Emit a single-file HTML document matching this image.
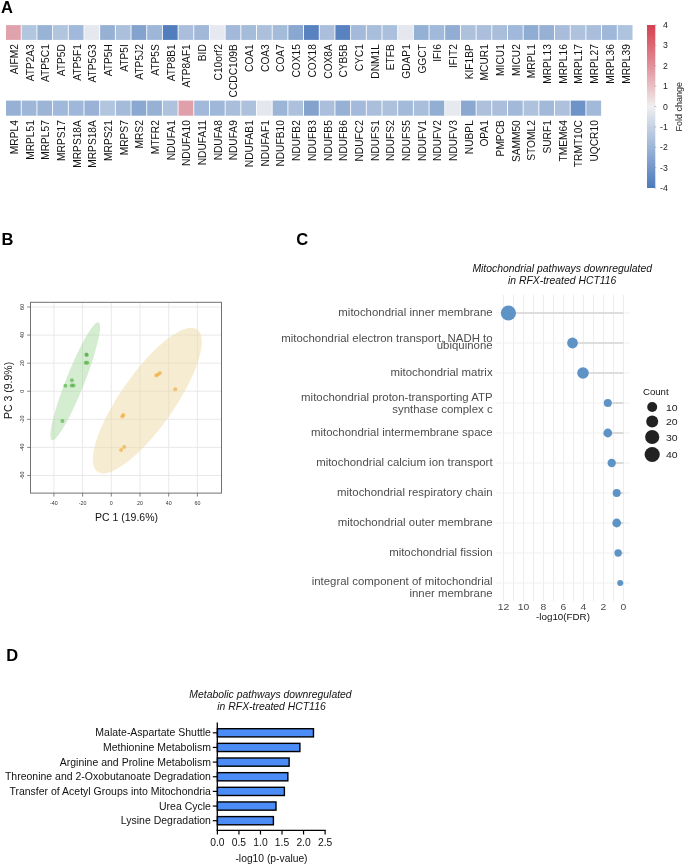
<!DOCTYPE html>
<html><head><meta charset="utf-8"><title>Figure</title>
<style>
html,body{margin:0;padding:0;background:#fff;}
body{width:685px;height:865px;overflow:hidden;}
svg{display:block;will-change:transform;}
svg text{font-family:"Liberation Sans",sans-serif;}
</style></head>
<body>
<svg width="685" height="865" viewBox="0 0 685 865">
<text x="1" y="12.9" font-size="16.5" font-weight="bold" fill="#000">A</text>
<rect x="6.00" y="25.1" width="14.79" height="14.8" fill="#E0A3AD"/>
<rect x="21.69" y="25.1" width="14.79" height="14.8" fill="#B3C6DF"/>
<rect x="37.37" y="25.1" width="14.79" height="14.8" fill="#98B3D6"/>
<rect x="53.05" y="25.1" width="14.79" height="14.8" fill="#B2C5DF"/>
<rect x="68.74" y="25.1" width="14.79" height="14.8" fill="#A1B9DA"/>
<rect x="84.42" y="25.1" width="14.79" height="14.8" fill="#E5E8EE"/>
<rect x="100.11" y="25.1" width="14.79" height="14.8" fill="#97B1D5"/>
<rect x="115.80" y="25.1" width="14.79" height="14.8" fill="#ABC0DC"/>
<rect x="131.48" y="25.1" width="14.79" height="14.8" fill="#83A2CD"/>
<rect x="147.16" y="25.1" width="14.79" height="14.8" fill="#9EB7D9"/>
<rect x="162.85" y="25.1" width="14.79" height="14.8" fill="#537EBD"/>
<rect x="178.53" y="25.1" width="14.79" height="14.8" fill="#ABBFDC"/>
<rect x="194.22" y="25.1" width="14.79" height="14.8" fill="#A1B8D9"/>
<rect x="209.91" y="25.1" width="14.79" height="14.8" fill="#E6E9EF"/>
<rect x="225.59" y="25.1" width="14.79" height="14.8" fill="#A2B9D9"/>
<rect x="241.28" y="25.1" width="14.79" height="14.8" fill="#A4BBDA"/>
<rect x="256.96" y="25.1" width="14.79" height="14.8" fill="#ACC0DC"/>
<rect x="272.64" y="25.1" width="14.79" height="14.8" fill="#A4BBDA"/>
<rect x="288.33" y="25.1" width="14.79" height="14.8" fill="#89A7D0"/>
<rect x="304.01" y="25.1" width="14.79" height="14.8" fill="#5983C0"/>
<rect x="319.70" y="25.1" width="14.79" height="14.8" fill="#ABBFDC"/>
<rect x="335.38" y="25.1" width="14.79" height="14.8" fill="#5883C0"/>
<rect x="351.07" y="25.1" width="14.79" height="14.8" fill="#A3BADA"/>
<rect x="366.75" y="25.1" width="14.79" height="14.8" fill="#A9BEDB"/>
<rect x="382.44" y="25.1" width="14.79" height="14.8" fill="#ABC0DC"/>
<rect x="398.12" y="25.1" width="14.79" height="14.8" fill="#E4E8EE"/>
<rect x="413.81" y="25.1" width="14.79" height="14.8" fill="#94B0D4"/>
<rect x="429.50" y="25.1" width="14.79" height="14.8" fill="#A1B9DA"/>
<rect x="445.18" y="25.1" width="14.79" height="14.8" fill="#91ADD3"/>
<rect x="460.87" y="25.1" width="14.79" height="14.8" fill="#ADC1DD"/>
<rect x="476.55" y="25.1" width="14.79" height="14.8" fill="#ABBFDC"/>
<rect x="492.24" y="25.1" width="14.79" height="14.8" fill="#A9BEDB"/>
<rect x="507.92" y="25.1" width="14.79" height="14.8" fill="#A0B8D9"/>
<rect x="523.61" y="25.1" width="14.79" height="14.8" fill="#8FACD2"/>
<rect x="539.29" y="25.1" width="14.79" height="14.8" fill="#97B1D5"/>
<rect x="554.98" y="25.1" width="14.79" height="14.8" fill="#A8BDDB"/>
<rect x="570.66" y="25.1" width="14.79" height="14.8" fill="#AFC2DD"/>
<rect x="586.35" y="25.1" width="14.79" height="14.8" fill="#A9BEDB"/>
<rect x="602.03" y="25.1" width="14.79" height="14.8" fill="#9FB7D9"/>
<rect x="617.72" y="25.1" width="14.79" height="14.8" fill="#AEC3DE"/>
<text transform="translate(17.83,44.2) scale(1.05,1) rotate(-90)" text-anchor="end" font-size="10.2" fill="#111">AIFM2</text>
<text transform="translate(33.51,44.2) scale(1.05,1) rotate(-90)" text-anchor="end" font-size="10.2" fill="#111">ATP2A3</text>
<text transform="translate(49.20,44.2) scale(1.05,1) rotate(-90)" text-anchor="end" font-size="10.2" fill="#111">ATP5C1</text>
<text transform="translate(64.88,44.2) scale(1.05,1) rotate(-90)" text-anchor="end" font-size="10.2" fill="#111">ATP5D</text>
<text transform="translate(80.57,44.2) scale(1.05,1) rotate(-90)" text-anchor="end" font-size="10.2" fill="#111">ATP5F1</text>
<text transform="translate(96.25,44.2) scale(1.05,1) rotate(-90)" text-anchor="end" font-size="10.2" fill="#111">ATP5G3</text>
<text transform="translate(111.94,44.2) scale(1.05,1) rotate(-90)" text-anchor="end" font-size="10.2" fill="#111">ATP5H</text>
<text transform="translate(127.62,44.2) scale(1.05,1) rotate(-90)" text-anchor="end" font-size="10.2" fill="#111">ATP5I</text>
<text transform="translate(143.31,44.2) scale(1.05,1) rotate(-90)" text-anchor="end" font-size="10.2" fill="#111">ATP5J2</text>
<text transform="translate(158.99,44.2) scale(1.05,1) rotate(-90)" text-anchor="end" font-size="10.2" fill="#111">ATP5S</text>
<text transform="translate(174.68,44.2) scale(1.05,1) rotate(-90)" text-anchor="end" font-size="10.2" fill="#111">ATP8B1</text>
<text transform="translate(190.36,44.2) scale(1.05,1) rotate(-90)" text-anchor="end" font-size="10.2" fill="#111">ATP8AF1</text>
<text transform="translate(206.05,44.2) scale(1.05,1) rotate(-90)" text-anchor="end" font-size="10.2" fill="#111">BID</text>
<text transform="translate(221.73,44.2) scale(1.05,1) rotate(-90)" text-anchor="end" font-size="10.2" fill="#111">C10orf2</text>
<text transform="translate(237.42,44.2) scale(1.05,1) rotate(-90)" text-anchor="end" font-size="10.2" fill="#111">CCDC109B</text>
<text transform="translate(253.10,44.2) scale(1.05,1) rotate(-90)" text-anchor="end" font-size="10.2" fill="#111">COA1</text>
<text transform="translate(268.79,44.2) scale(1.05,1) rotate(-90)" text-anchor="end" font-size="10.2" fill="#111">COA3</text>
<text transform="translate(284.47,44.2) scale(1.05,1) rotate(-90)" text-anchor="end" font-size="10.2" fill="#111">COA7</text>
<text transform="translate(300.16,44.2) scale(1.05,1) rotate(-90)" text-anchor="end" font-size="10.2" fill="#111">COX15</text>
<text transform="translate(315.84,44.2) scale(1.05,1) rotate(-90)" text-anchor="end" font-size="10.2" fill="#111">COX18</text>
<text transform="translate(331.53,44.2) scale(1.05,1) rotate(-90)" text-anchor="end" font-size="10.2" fill="#111">COX8A</text>
<text transform="translate(347.21,44.2) scale(1.05,1) rotate(-90)" text-anchor="end" font-size="10.2" fill="#111">CYB5B</text>
<text transform="translate(362.90,44.2) scale(1.05,1) rotate(-90)" text-anchor="end" font-size="10.2" fill="#111">CYC1</text>
<text transform="translate(378.58,44.2) scale(1.05,1) rotate(-90)" text-anchor="end" font-size="10.2" fill="#111">DNM1L</text>
<text transform="translate(394.27,44.2) scale(1.05,1) rotate(-90)" text-anchor="end" font-size="10.2" fill="#111">ETFB</text>
<text transform="translate(409.95,44.2) scale(1.05,1) rotate(-90)" text-anchor="end" font-size="10.2" fill="#111">GDAP1</text>
<text transform="translate(425.64,44.2) scale(1.05,1) rotate(-90)" text-anchor="end" font-size="10.2" fill="#111">GGCT</text>
<text transform="translate(441.32,44.2) scale(1.05,1) rotate(-90)" text-anchor="end" font-size="10.2" fill="#111">IFI6</text>
<text transform="translate(457.01,44.2) scale(1.05,1) rotate(-90)" text-anchor="end" font-size="10.2" fill="#111">IFIT2</text>
<text transform="translate(472.69,44.2) scale(1.05,1) rotate(-90)" text-anchor="end" font-size="10.2" fill="#111">KIF1BP</text>
<text transform="translate(488.38,44.2) scale(1.05,1) rotate(-90)" text-anchor="end" font-size="10.2" fill="#111">MCUR1</text>
<text transform="translate(504.06,44.2) scale(1.05,1) rotate(-90)" text-anchor="end" font-size="10.2" fill="#111">MICU1</text>
<text transform="translate(519.75,44.2) scale(1.05,1) rotate(-90)" text-anchor="end" font-size="10.2" fill="#111">MICU2</text>
<text transform="translate(535.43,44.2) scale(1.05,1) rotate(-90)" text-anchor="end" font-size="10.2" fill="#111">MRPL1</text>
<text transform="translate(551.12,44.2) scale(1.05,1) rotate(-90)" text-anchor="end" font-size="10.2" fill="#111">MRPL13</text>
<text transform="translate(566.80,44.2) scale(1.05,1) rotate(-90)" text-anchor="end" font-size="10.2" fill="#111">MRPL16</text>
<text transform="translate(582.49,44.2) scale(1.05,1) rotate(-90)" text-anchor="end" font-size="10.2" fill="#111">MRPL17</text>
<text transform="translate(598.17,44.2) scale(1.05,1) rotate(-90)" text-anchor="end" font-size="10.2" fill="#111">MRPL27</text>
<text transform="translate(613.86,44.2) scale(1.05,1) rotate(-90)" text-anchor="end" font-size="10.2" fill="#111">MRPL36</text>
<text transform="translate(629.54,44.2) scale(1.05,1) rotate(-90)" text-anchor="end" font-size="10.2" fill="#111">MRPL39</text>
<rect x="6.00" y="100.6" width="14.79" height="15.1" fill="#97B1D5"/>
<rect x="21.69" y="100.6" width="14.79" height="15.1" fill="#9EB6D8"/>
<rect x="37.37" y="100.6" width="14.79" height="15.1" fill="#9CB5D7"/>
<rect x="53.05" y="100.6" width="14.79" height="15.1" fill="#A0B8D9"/>
<rect x="68.74" y="100.6" width="14.79" height="15.1" fill="#9FB7D9"/>
<rect x="84.42" y="100.6" width="14.79" height="15.1" fill="#99B2D6"/>
<rect x="100.11" y="100.6" width="14.79" height="15.1" fill="#B2C5DF"/>
<rect x="115.80" y="100.6" width="14.79" height="15.1" fill="#A5BBDA"/>
<rect x="131.48" y="100.6" width="14.79" height="15.1" fill="#8AA8D0"/>
<rect x="147.16" y="100.6" width="14.79" height="15.1" fill="#97B1D5"/>
<rect x="162.85" y="100.6" width="14.79" height="15.1" fill="#AFC2DD"/>
<rect x="178.53" y="100.6" width="14.79" height="15.1" fill="#E0A0AA"/>
<rect x="194.22" y="100.6" width="14.79" height="15.1" fill="#A2B9D9"/>
<rect x="209.91" y="100.6" width="14.79" height="15.1" fill="#9FB7D9"/>
<rect x="225.59" y="100.6" width="14.79" height="15.1" fill="#A9BEDB"/>
<rect x="241.28" y="100.6" width="14.79" height="15.1" fill="#ADC1DD"/>
<rect x="256.96" y="100.6" width="14.79" height="15.1" fill="#E4E8EE"/>
<rect x="272.64" y="100.6" width="14.79" height="15.1" fill="#9CB5D7"/>
<rect x="288.33" y="100.6" width="14.79" height="15.1" fill="#ADC1DD"/>
<rect x="304.01" y="100.6" width="14.79" height="15.1" fill="#83A3CD"/>
<rect x="319.70" y="100.6" width="14.79" height="15.1" fill="#ABBFDC"/>
<rect x="335.38" y="100.6" width="14.79" height="15.1" fill="#97B1D5"/>
<rect x="351.07" y="100.6" width="14.79" height="15.1" fill="#A4BADA"/>
<rect x="366.75" y="100.6" width="14.79" height="15.1" fill="#ABBFDC"/>
<rect x="382.44" y="100.6" width="14.79" height="15.1" fill="#ADC1DD"/>
<rect x="398.12" y="100.6" width="14.79" height="15.1" fill="#A4BADA"/>
<rect x="413.81" y="100.6" width="14.79" height="15.1" fill="#A9BEDB"/>
<rect x="429.50" y="100.6" width="14.79" height="15.1" fill="#92AED3"/>
<rect x="445.18" y="100.6" width="14.79" height="15.1" fill="#E6E9EE"/>
<rect x="460.87" y="100.6" width="14.79" height="15.1" fill="#8AA8D0"/>
<rect x="476.55" y="100.6" width="14.79" height="15.1" fill="#ADC1DD"/>
<rect x="492.24" y="100.6" width="14.79" height="15.1" fill="#ABBFDC"/>
<rect x="507.92" y="100.6" width="14.79" height="15.1" fill="#A2B9D9"/>
<rect x="523.61" y="100.6" width="14.79" height="15.1" fill="#AFC2DD"/>
<rect x="539.29" y="100.6" width="14.79" height="15.1" fill="#A2B9D9"/>
<rect x="554.98" y="100.6" width="14.79" height="15.1" fill="#ADC1DD"/>
<rect x="570.66" y="100.6" width="14.79" height="15.1" fill="#6E93C8"/>
<rect x="586.35" y="100.6" width="14.79" height="15.1" fill="#A2B9D9"/>
<text transform="translate(17.83,120.2) scale(1.05,1) rotate(-90)" text-anchor="end" font-size="10.2" fill="#111">MRPL4</text>
<text transform="translate(33.51,120.2) scale(1.05,1) rotate(-90)" text-anchor="end" font-size="10.2" fill="#111">MRPL51</text>
<text transform="translate(49.20,120.2) scale(1.05,1) rotate(-90)" text-anchor="end" font-size="10.2" fill="#111">MRPL57</text>
<text transform="translate(64.88,120.2) scale(1.05,1) rotate(-90)" text-anchor="end" font-size="10.2" fill="#111">MRPS17</text>
<text transform="translate(80.57,120.2) scale(1.05,1) rotate(-90)" text-anchor="end" font-size="10.2" fill="#111">MRPS18A</text>
<text transform="translate(96.25,120.2) scale(1.05,1) rotate(-90)" text-anchor="end" font-size="10.2" fill="#111">MRPS18A</text>
<text transform="translate(111.94,120.2) scale(1.05,1) rotate(-90)" text-anchor="end" font-size="10.2" fill="#111">MRPS21</text>
<text transform="translate(127.62,120.2) scale(1.05,1) rotate(-90)" text-anchor="end" font-size="10.2" fill="#111">MRPS7</text>
<text transform="translate(143.31,120.2) scale(1.05,1) rotate(-90)" text-anchor="end" font-size="10.2" fill="#111">MRS2</text>
<text transform="translate(158.99,120.2) scale(1.05,1) rotate(-90)" text-anchor="end" font-size="10.2" fill="#111">MTFR2</text>
<text transform="translate(174.68,120.2) scale(1.05,1) rotate(-90)" text-anchor="end" font-size="10.2" fill="#111">NDUFA1</text>
<text transform="translate(190.36,120.2) scale(1.05,1) rotate(-90)" text-anchor="end" font-size="10.2" fill="#111">NDUFA10</text>
<text transform="translate(206.05,120.2) scale(1.05,1) rotate(-90)" text-anchor="end" font-size="10.2" fill="#111">NDUFA11</text>
<text transform="translate(221.73,120.2) scale(1.05,1) rotate(-90)" text-anchor="end" font-size="10.2" fill="#111">NDUFA8</text>
<text transform="translate(237.42,120.2) scale(1.05,1) rotate(-90)" text-anchor="end" font-size="10.2" fill="#111">NDUFA9</text>
<text transform="translate(253.10,120.2) scale(1.05,1) rotate(-90)" text-anchor="end" font-size="10.2" fill="#111">NDUFAB1</text>
<text transform="translate(268.79,120.2) scale(1.05,1) rotate(-90)" text-anchor="end" font-size="10.2" fill="#111">NDUFAF1</text>
<text transform="translate(284.47,120.2) scale(1.05,1) rotate(-90)" text-anchor="end" font-size="10.2" fill="#111">NDUFB10</text>
<text transform="translate(300.16,120.2) scale(1.05,1) rotate(-90)" text-anchor="end" font-size="10.2" fill="#111">NDUFB2</text>
<text transform="translate(315.84,120.2) scale(1.05,1) rotate(-90)" text-anchor="end" font-size="10.2" fill="#111">NDUFB3</text>
<text transform="translate(331.53,120.2) scale(1.05,1) rotate(-90)" text-anchor="end" font-size="10.2" fill="#111">NDUFB5</text>
<text transform="translate(347.21,120.2) scale(1.05,1) rotate(-90)" text-anchor="end" font-size="10.2" fill="#111">NDUFB6</text>
<text transform="translate(362.90,120.2) scale(1.05,1) rotate(-90)" text-anchor="end" font-size="10.2" fill="#111">NDUFC2</text>
<text transform="translate(378.58,120.2) scale(1.05,1) rotate(-90)" text-anchor="end" font-size="10.2" fill="#111">NDUFS1</text>
<text transform="translate(394.27,120.2) scale(1.05,1) rotate(-90)" text-anchor="end" font-size="10.2" fill="#111">NDUFS2</text>
<text transform="translate(409.95,120.2) scale(1.05,1) rotate(-90)" text-anchor="end" font-size="10.2" fill="#111">NDUFS5</text>
<text transform="translate(425.64,120.2) scale(1.05,1) rotate(-90)" text-anchor="end" font-size="10.2" fill="#111">NDUFV1</text>
<text transform="translate(441.32,120.2) scale(1.05,1) rotate(-90)" text-anchor="end" font-size="10.2" fill="#111">NDUFV2</text>
<text transform="translate(457.01,120.2) scale(1.05,1) rotate(-90)" text-anchor="end" font-size="10.2" fill="#111">NDUFV3</text>
<text transform="translate(472.69,120.2) scale(1.05,1) rotate(-90)" text-anchor="end" font-size="10.2" fill="#111">NUBPL</text>
<text transform="translate(488.38,120.2) scale(1.05,1) rotate(-90)" text-anchor="end" font-size="10.2" fill="#111">OPA1</text>
<text transform="translate(504.06,120.2) scale(1.05,1) rotate(-90)" text-anchor="end" font-size="10.2" fill="#111">PMPCB</text>
<text transform="translate(519.75,120.2) scale(1.05,1) rotate(-90)" text-anchor="end" font-size="10.2" fill="#111">SAMM50</text>
<text transform="translate(535.43,120.2) scale(1.05,1) rotate(-90)" text-anchor="end" font-size="10.2" fill="#111">STOML2</text>
<text transform="translate(551.12,120.2) scale(1.05,1) rotate(-90)" text-anchor="end" font-size="10.2" fill="#111">SURF1</text>
<text transform="translate(566.80,120.2) scale(1.05,1) rotate(-90)" text-anchor="end" font-size="10.2" fill="#111">TMEM64</text>
<text transform="translate(582.49,120.2) scale(1.05,1) rotate(-90)" text-anchor="end" font-size="10.2" fill="#111">TRMT10C</text>
<text transform="translate(598.17,120.2) scale(1.05,1) rotate(-90)" text-anchor="end" font-size="10.2" fill="#111">UQCR10</text>
<defs><linearGradient id="cb" x1="0" y1="0" x2="0" y2="1"><stop offset="0" stop-color="#D63F4F"/><stop offset="0.25" stop-color="#E2909A"/><stop offset="0.5" stop-color="#EFEFEF"/><stop offset="0.75" stop-color="#9DB5D8"/><stop offset="1" stop-color="#4C79BC"/></linearGradient></defs>
<rect x="647" y="25" width="8.3" height="163" fill="url(#cb)"/>
<line x1="654.3" x2="656.3" y1="25.00" y2="25.00" stroke="#999" stroke-width="0.6"/>
<text x="667.8" y="28.11" text-anchor="end" font-size="8.7" fill="#222">4</text>
<line x1="654.3" x2="656.3" y1="45.38" y2="45.38" stroke="#999" stroke-width="0.6"/>
<text x="667.8" y="48.49" text-anchor="end" font-size="8.7" fill="#222">3</text>
<line x1="654.3" x2="656.3" y1="65.75" y2="65.75" stroke="#999" stroke-width="0.6"/>
<text x="667.8" y="68.86" text-anchor="end" font-size="8.7" fill="#222">2</text>
<line x1="654.3" x2="656.3" y1="86.12" y2="86.12" stroke="#999" stroke-width="0.6"/>
<text x="667.8" y="89.24" text-anchor="end" font-size="8.7" fill="#222">1</text>
<line x1="654.3" x2="656.3" y1="106.50" y2="106.50" stroke="#999" stroke-width="0.6"/>
<text x="667.8" y="109.61" text-anchor="end" font-size="8.7" fill="#222">0</text>
<line x1="654.3" x2="656.3" y1="126.88" y2="126.88" stroke="#999" stroke-width="0.6"/>
<text x="667.8" y="129.99" text-anchor="end" font-size="8.7" fill="#222">-1</text>
<line x1="654.3" x2="656.3" y1="147.25" y2="147.25" stroke="#999" stroke-width="0.6"/>
<text x="667.8" y="150.36" text-anchor="end" font-size="8.7" fill="#222">-2</text>
<line x1="654.3" x2="656.3" y1="167.62" y2="167.62" stroke="#999" stroke-width="0.6"/>
<text x="667.8" y="170.74" text-anchor="end" font-size="8.7" fill="#222">-3</text>
<line x1="654.3" x2="656.3" y1="188.00" y2="188.00" stroke="#999" stroke-width="0.6"/>
<text x="667.8" y="191.11" text-anchor="end" font-size="8.7" fill="#222">-4</text>
<text transform="translate(681.8,106.7) rotate(-90)" text-anchor="middle" font-size="9.0" fill="#222">Fold change</text>
<text x="1.5" y="244.9" font-size="16.5" font-weight="bold" fill="#000">B</text>
<line x1="53.90" x2="53.90" y1="302.3" y2="493.1" stroke="#E6E6E6" stroke-width="0.9"/>
<line x1="82.60" x2="82.60" y1="302.3" y2="493.1" stroke="#E6E6E6" stroke-width="0.9"/>
<line x1="111.30" x2="111.30" y1="302.3" y2="493.1" stroke="#E6E6E6" stroke-width="0.9"/>
<line x1="140.00" x2="140.00" y1="302.3" y2="493.1" stroke="#E6E6E6" stroke-width="0.9"/>
<line x1="168.70" x2="168.70" y1="302.3" y2="493.1" stroke="#E6E6E6" stroke-width="0.9"/>
<line x1="197.40" x2="197.40" y1="302.3" y2="493.1" stroke="#E6E6E6" stroke-width="0.9"/>
<line x1="30.5" x2="221.5" y1="475.49" y2="475.49" stroke="#E6E6E6" stroke-width="0.9"/>
<line x1="30.5" x2="221.5" y1="447.41" y2="447.41" stroke="#E6E6E6" stroke-width="0.9"/>
<line x1="30.5" x2="221.5" y1="419.33" y2="419.33" stroke="#E6E6E6" stroke-width="0.9"/>
<line x1="30.5" x2="221.5" y1="391.25" y2="391.25" stroke="#E6E6E6" stroke-width="0.9"/>
<line x1="30.5" x2="221.5" y1="363.17" y2="363.17" stroke="#E6E6E6" stroke-width="0.9"/>
<line x1="30.5" x2="221.5" y1="335.09" y2="335.09" stroke="#E6E6E6" stroke-width="0.9"/>
<line x1="30.5" x2="221.5" y1="307.01" y2="307.01" stroke="#E6E6E6" stroke-width="0.9"/>
<ellipse cx="75.2" cy="381.3" rx="63.3" ry="9.2" transform="rotate(-68.4 75.2 381.3)" fill="#9FD497" fill-opacity="0.45"/>
<ellipse cx="147.3" cy="400.6" rx="86.9" ry="26.9" transform="rotate(-55 147.3 400.6)" fill="#EED9A4" fill-opacity="0.5"/>
<circle cx="86.7" cy="355.0" r="2.0" fill="#4DAF3F" fill-opacity="0.62"/>
<circle cx="85.7" cy="362.7" r="2.0" fill="#4DAF3F" fill-opacity="0.62"/>
<circle cx="87.3" cy="362.7" r="2.0" fill="#4DAF3F" fill-opacity="0.62"/>
<circle cx="71.9" cy="380.2" r="2.0" fill="#4DAF3F" fill-opacity="0.62"/>
<circle cx="65.4" cy="385.8" r="2.0" fill="#4DAF3F" fill-opacity="0.62"/>
<circle cx="71.6" cy="385.4" r="2.0" fill="#4DAF3F" fill-opacity="0.62"/>
<circle cx="73.5" cy="385.4" r="2.0" fill="#4DAF3F" fill-opacity="0.62"/>
<circle cx="62.4" cy="421.0" r="2.0" fill="#4DAF3F" fill-opacity="0.62"/>
<circle cx="86.4" cy="354.6" r="2.0" fill="#4DAF3F" fill-opacity="0.62"/>
<circle cx="156.2" cy="375.6" r="2.0" fill="#F0A830" fill-opacity="0.62"/>
<circle cx="157.9" cy="374.6" r="2.0" fill="#F0A830" fill-opacity="0.62"/>
<circle cx="160.0" cy="372.9" r="2.0" fill="#F0A830" fill-opacity="0.62"/>
<circle cx="175.2" cy="389.2" r="2.0" fill="#F0A830" fill-opacity="0.62"/>
<circle cx="122.3" cy="416.6" r="2.0" fill="#F0A830" fill-opacity="0.62"/>
<circle cx="123.4" cy="415.0" r="2.0" fill="#F0A830" fill-opacity="0.62"/>
<circle cx="121.1" cy="450.0" r="2.0" fill="#F0A830" fill-opacity="0.62"/>
<circle cx="124.2" cy="446.9" r="2.0" fill="#F0A830" fill-opacity="0.62"/>
<rect x="30.5" y="302.3" width="191.0" height="190.8" fill="none" stroke="#707070" stroke-width="1"/>
<line x1="53.90" x2="53.90" y1="493.1" y2="496.6" stroke="#666" stroke-width="0.8"/>
<text x="53.90" y="505.20" text-anchor="middle" font-size="5.3" fill="#333">-40</text>
<line x1="82.60" x2="82.60" y1="493.1" y2="496.6" stroke="#666" stroke-width="0.8"/>
<text x="82.60" y="505.20" text-anchor="middle" font-size="5.3" fill="#333">-20</text>
<line x1="111.30" x2="111.30" y1="493.1" y2="496.6" stroke="#666" stroke-width="0.8"/>
<text x="111.30" y="505.20" text-anchor="middle" font-size="5.3" fill="#333">0</text>
<line x1="140.00" x2="140.00" y1="493.1" y2="496.6" stroke="#666" stroke-width="0.8"/>
<text x="140.00" y="505.20" text-anchor="middle" font-size="5.3" fill="#333">20</text>
<line x1="168.70" x2="168.70" y1="493.1" y2="496.6" stroke="#666" stroke-width="0.8"/>
<text x="168.70" y="505.20" text-anchor="middle" font-size="5.3" fill="#333">40</text>
<line x1="197.40" x2="197.40" y1="493.1" y2="496.6" stroke="#666" stroke-width="0.8"/>
<text x="197.40" y="505.20" text-anchor="middle" font-size="5.3" fill="#333">60</text>
<line x1="27.2" x2="30.5" y1="475.49" y2="475.49" stroke="#666" stroke-width="0.8"/>
<text transform="translate(24.40,475.49) rotate(-90)" text-anchor="middle" font-size="5.3" fill="#333">-60</text>
<line x1="27.2" x2="30.5" y1="447.41" y2="447.41" stroke="#666" stroke-width="0.8"/>
<text transform="translate(24.40,447.41) rotate(-90)" text-anchor="middle" font-size="5.3" fill="#333">-40</text>
<line x1="27.2" x2="30.5" y1="419.33" y2="419.33" stroke="#666" stroke-width="0.8"/>
<text transform="translate(24.40,419.33) rotate(-90)" text-anchor="middle" font-size="5.3" fill="#333">-20</text>
<line x1="27.2" x2="30.5" y1="391.25" y2="391.25" stroke="#666" stroke-width="0.8"/>
<text transform="translate(24.40,391.25) rotate(-90)" text-anchor="middle" font-size="5.3" fill="#333">0</text>
<line x1="27.2" x2="30.5" y1="363.17" y2="363.17" stroke="#666" stroke-width="0.8"/>
<text transform="translate(24.40,363.17) rotate(-90)" text-anchor="middle" font-size="5.3" fill="#333">20</text>
<line x1="27.2" x2="30.5" y1="335.09" y2="335.09" stroke="#666" stroke-width="0.8"/>
<text transform="translate(24.40,335.09) rotate(-90)" text-anchor="middle" font-size="5.3" fill="#333">40</text>
<line x1="27.2" x2="30.5" y1="307.01" y2="307.01" stroke="#666" stroke-width="0.8"/>
<text transform="translate(24.40,307.01) rotate(-90)" text-anchor="middle" font-size="5.3" fill="#333">60</text>
<text x="126.5" y="521.26" text-anchor="middle" font-size="10.5" fill="#111">PC 1 (19.6%)</text>
<text transform="translate(11.9,390.4) rotate(-90)" text-anchor="middle" font-size="10.5" fill="#111">PC 3 (9.9%)</text>
<text x="296.3" y="245" font-size="16.5" font-weight="bold" fill="#000">C</text>
<text x="562.2" y="272" text-anchor="middle" font-size="10.4" font-style="italic" fill="#111">Mitochondrial pathways downregulated</text>
<text x="562.2" y="283.9" text-anchor="middle" font-size="10.4" font-style="italic" fill="#111">in RFX-treated HCT116</text>
<line x1="623.50" x2="623.50" y1="295" y2="601" stroke="#EDEDED" stroke-width="1"/>
<line x1="613.50" x2="613.50" y1="295" y2="601" stroke="#EDEDED" stroke-width="1"/>
<line x1="603.50" x2="603.50" y1="295" y2="601" stroke="#EDEDED" stroke-width="1"/>
<line x1="593.50" x2="593.50" y1="295" y2="601" stroke="#EDEDED" stroke-width="1"/>
<line x1="583.50" x2="583.50" y1="295" y2="601" stroke="#EDEDED" stroke-width="1"/>
<line x1="573.50" x2="573.50" y1="295" y2="601" stroke="#EDEDED" stroke-width="1"/>
<line x1="563.50" x2="563.50" y1="295" y2="601" stroke="#EDEDED" stroke-width="1"/>
<line x1="553.50" x2="553.50" y1="295" y2="601" stroke="#EDEDED" stroke-width="1"/>
<line x1="543.50" x2="543.50" y1="295" y2="601" stroke="#EDEDED" stroke-width="1"/>
<line x1="533.50" x2="533.50" y1="295" y2="601" stroke="#EDEDED" stroke-width="1"/>
<line x1="523.50" x2="523.50" y1="295" y2="601" stroke="#EDEDED" stroke-width="1"/>
<line x1="513.50" x2="513.50" y1="295" y2="601" stroke="#EDEDED" stroke-width="1"/>
<line x1="503.50" x2="503.50" y1="295" y2="601" stroke="#EDEDED" stroke-width="1"/>
<line x1="496" x2="630" y1="313" y2="313" stroke="#F0F0F0" stroke-width="1"/>
<line x1="496" x2="630" y1="343" y2="343" stroke="#F0F0F0" stroke-width="1"/>
<line x1="496" x2="630" y1="373" y2="373" stroke="#F0F0F0" stroke-width="1"/>
<line x1="496" x2="630" y1="403" y2="403" stroke="#F0F0F0" stroke-width="1"/>
<line x1="496" x2="630" y1="433" y2="433" stroke="#F0F0F0" stroke-width="1"/>
<line x1="496" x2="630" y1="463" y2="463" stroke="#F0F0F0" stroke-width="1"/>
<line x1="496" x2="630" y1="493" y2="493" stroke="#F0F0F0" stroke-width="1"/>
<line x1="496" x2="630" y1="523" y2="523" stroke="#F0F0F0" stroke-width="1"/>
<line x1="496" x2="630" y1="553" y2="553" stroke="#F0F0F0" stroke-width="1"/>
<line x1="496" x2="630" y1="583" y2="583" stroke="#F0F0F0" stroke-width="1"/>
<line x1="508.4" x2="623.5" y1="313" y2="313" stroke="#D6D6D6" stroke-width="1.7"/>
<line x1="572.5" x2="623.5" y1="343" y2="343" stroke="#D6D6D6" stroke-width="1.7"/>
<line x1="583.0" x2="623.5" y1="373" y2="373" stroke="#D6D6D6" stroke-width="1.7"/>
<line x1="607.8" x2="623.5" y1="403" y2="403" stroke="#D6D6D6" stroke-width="1.7"/>
<line x1="607.8" x2="623.5" y1="433" y2="433" stroke="#D6D6D6" stroke-width="1.7"/>
<line x1="611.7" x2="623.5" y1="463" y2="463" stroke="#D6D6D6" stroke-width="1.7"/>
<line x1="616.7" x2="623.5" y1="493" y2="493" stroke="#D6D6D6" stroke-width="1.7"/>
<line x1="616.7" x2="623.5" y1="523" y2="523" stroke="#D6D6D6" stroke-width="1.7"/>
<line x1="618.1" x2="623.5" y1="553" y2="553" stroke="#D6D6D6" stroke-width="1.7"/>
<line x1="620.2" x2="623.5" y1="583" y2="583" stroke="#D6D6D6" stroke-width="1.7"/>
<circle cx="508.4" cy="313" r="7.6" fill="#5E93C6"/>
<circle cx="572.5" cy="343" r="5.4" fill="#5E93C6"/>
<circle cx="583.0" cy="373" r="5.8" fill="#5E93C6"/>
<circle cx="607.8" cy="403" r="4.0" fill="#5E93C6"/>
<circle cx="607.8" cy="433" r="4.4" fill="#5E93C6"/>
<circle cx="611.7" cy="463" r="4.2" fill="#5E93C6"/>
<circle cx="616.7" cy="493" r="4.0" fill="#5E93C6"/>
<circle cx="616.7" cy="523" r="4.4" fill="#5E93C6"/>
<circle cx="618.1" cy="553" r="3.7" fill="#5E93C6"/>
<circle cx="620.2" cy="583" r="3.0" fill="#5E93C6"/>
<text transform="translate(492.6,316.00) scale(1.088,1)" text-anchor="end" font-size="10.5" fill="#4D4D4D">mitochondrial inner membrane</text>
<text transform="translate(492.6,341.60) scale(1.088,1)" text-anchor="end" font-size="10.5" fill="#4D4D4D">mitochondrial electron transport, NADH to</text>
<text transform="translate(492.6,349.00) scale(1.088,1)" text-anchor="end" font-size="10.5" fill="#4D4D4D">ubiquinone</text>
<text transform="translate(492.6,376.00) scale(1.088,1)" text-anchor="end" font-size="10.5" fill="#4D4D4D">mitochondrial matrix</text>
<text transform="translate(492.6,401.00) scale(1.088,1)" text-anchor="end" font-size="10.5" fill="#4D4D4D">mitochondrial proton-transporting ATP</text>
<text transform="translate(492.6,412.50) scale(1.088,1)" text-anchor="end" font-size="10.5" fill="#4D4D4D">synthase complex c</text>
<text transform="translate(492.6,436.00) scale(1.088,1)" text-anchor="end" font-size="10.5" fill="#4D4D4D">mitochondrial intermembrane space</text>
<text transform="translate(492.6,466.00) scale(1.088,1)" text-anchor="end" font-size="10.5" fill="#4D4D4D">mitochondrial calcium ion transport</text>
<text transform="translate(492.6,496.00) scale(1.088,1)" text-anchor="end" font-size="10.5" fill="#4D4D4D">mitochondrial respiratory chain</text>
<text transform="translate(492.6,526.00) scale(1.088,1)" text-anchor="end" font-size="10.5" fill="#4D4D4D">mitochondrial outer membrane</text>
<text transform="translate(492.6,556.00) scale(1.088,1)" text-anchor="end" font-size="10.5" fill="#4D4D4D">mitochondrial fission</text>
<text transform="translate(492.6,585.30) scale(1.088,1)" text-anchor="end" font-size="10.5" fill="#4D4D4D">integral component of mitochondrial</text>
<text transform="translate(492.6,596.50) scale(1.088,1)" text-anchor="end" font-size="10.5" fill="#4D4D4D">inner membrane</text>
<text transform="translate(503.50,609.9) scale(1.06,1)" text-anchor="middle" font-size="9.8" fill="#4D4D4D">12</text>
<text transform="translate(523.50,609.9) scale(1.06,1)" text-anchor="middle" font-size="9.8" fill="#4D4D4D">10</text>
<text transform="translate(543.50,609.9) scale(1.06,1)" text-anchor="middle" font-size="9.8" fill="#4D4D4D">8</text>
<text transform="translate(563.50,609.9) scale(1.06,1)" text-anchor="middle" font-size="9.8" fill="#4D4D4D">6</text>
<text transform="translate(583.50,609.9) scale(1.06,1)" text-anchor="middle" font-size="9.8" fill="#4D4D4D">4</text>
<text transform="translate(603.50,609.9) scale(1.06,1)" text-anchor="middle" font-size="9.8" fill="#4D4D4D">2</text>
<text transform="translate(623.50,609.9) scale(1.06,1)" text-anchor="middle" font-size="9.8" fill="#4D4D4D">0</text>
<text x="563" y="620.1" text-anchor="middle" font-size="9.8" fill="#111">-log10(FDR)</text>
<text x="643" y="394.8" font-size="9.6" fill="#111">Count</text>
<circle cx="652.2" cy="407.0" r="5.0" fill="#222"/>
<text transform="translate(666.0,410.55) scale(1.06,1)" font-size="9.9" fill="#222">10</text>
<circle cx="652.2" cy="421.6" r="6.0" fill="#222"/>
<text transform="translate(666.0,425.15) scale(1.06,1)" font-size="9.9" fill="#222">20</text>
<circle cx="652.2" cy="437.0" r="7.1" fill="#222"/>
<text transform="translate(666.0,440.55) scale(1.06,1)" font-size="9.9" fill="#222">30</text>
<circle cx="652.2" cy="454.5" r="7.6" fill="#222"/>
<text transform="translate(666.0,458.05) scale(1.06,1)" font-size="9.9" fill="#222">40</text>
<text x="6.2" y="661" font-size="16.5" font-weight="bold" fill="#000">D</text>
<text x="270.5" y="697.9" text-anchor="middle" font-size="10.4" font-style="italic" fill="#111">Metabolic pathways downregulated</text>
<text x="271.5" y="709.8" text-anchor="middle" font-size="10.4" font-style="italic" fill="#111">in RFX-treated HCT116</text>
<rect x="217.40" y="728.70" width="96.07" height="8.2" fill="#4B8CF6" stroke="#000" stroke-width="1.4"/>
<line x1="212.8" x2="217.3" y1="732.80" y2="732.80" stroke="#000" stroke-width="1.2"/>
<text transform="translate(210.9,736.40) scale(1.05,1)" text-anchor="end" font-size="10.0" fill="#111">Malate-Aspartate Shuttle</text>
<rect x="217.40" y="743.35" width="82.50" height="8.2" fill="#4B8CF6" stroke="#000" stroke-width="1.4"/>
<line x1="212.8" x2="217.3" y1="747.45" y2="747.45" stroke="#000" stroke-width="1.2"/>
<text transform="translate(210.9,751.05) scale(1.05,1)" text-anchor="end" font-size="10.0" fill="#111">Methionine Metabolism</text>
<rect x="217.40" y="758.00" width="71.73" height="8.2" fill="#4B8CF6" stroke="#000" stroke-width="1.4"/>
<line x1="212.8" x2="217.3" y1="762.10" y2="762.10" stroke="#000" stroke-width="1.2"/>
<text transform="translate(210.9,765.70) scale(1.05,1)" text-anchor="end" font-size="10.0" fill="#111">Arginine and Proline Metabolism</text>
<rect x="217.40" y="772.65" width="70.44" height="8.2" fill="#4B8CF6" stroke="#000" stroke-width="1.4"/>
<line x1="212.8" x2="217.3" y1="776.75" y2="776.75" stroke="#000" stroke-width="1.2"/>
<text transform="translate(210.9,780.35) scale(1.05,1)" text-anchor="end" font-size="10.0" fill="#111">Threonine and 2-Oxobutanoate Degradation</text>
<rect x="217.40" y="787.30" width="66.99" height="8.2" fill="#4B8CF6" stroke="#000" stroke-width="1.4"/>
<line x1="212.8" x2="217.3" y1="791.40" y2="791.40" stroke="#000" stroke-width="1.2"/>
<text transform="translate(210.9,795.00) scale(1.05,1)" text-anchor="end" font-size="10.0" fill="#111">Transfer of Acetyl Groups into Mitochondria</text>
<rect x="217.40" y="801.95" width="58.59" height="8.2" fill="#4B8CF6" stroke="#000" stroke-width="1.4"/>
<line x1="212.8" x2="217.3" y1="806.05" y2="806.05" stroke="#000" stroke-width="1.2"/>
<text transform="translate(210.9,809.65) scale(1.05,1)" text-anchor="end" font-size="10.0" fill="#111">Urea Cycle</text>
<rect x="217.40" y="816.60" width="56.00" height="8.2" fill="#4B8CF6" stroke="#000" stroke-width="1.4"/>
<line x1="212.8" x2="217.3" y1="820.70" y2="820.70" stroke="#000" stroke-width="1.2"/>
<text transform="translate(210.9,824.30) scale(1.05,1)" text-anchor="end" font-size="10.0" fill="#111">Lysine Degradation</text>
<line x1="217.3" x2="217.3" y1="722.6" y2="831.0" stroke="#000" stroke-width="1.3"/>
<line x1="216.7" x2="325.7" y1="830.3" y2="830.3" stroke="#000" stroke-width="1.3"/>
<line x1="217.40" x2="217.40" y1="830.3" y2="834.5" stroke="#000" stroke-width="1.2"/>
<text x="217.40" y="846.00" text-anchor="middle" font-size="10.3" fill="#111">0.0</text>
<line x1="238.94" x2="238.94" y1="830.3" y2="834.5" stroke="#000" stroke-width="1.2"/>
<text x="238.94" y="846.00" text-anchor="middle" font-size="10.3" fill="#111">0.5</text>
<line x1="260.48" x2="260.48" y1="830.3" y2="834.5" stroke="#000" stroke-width="1.2"/>
<text x="260.48" y="846.00" text-anchor="middle" font-size="10.3" fill="#111">1.0</text>
<line x1="282.02" x2="282.02" y1="830.3" y2="834.5" stroke="#000" stroke-width="1.2"/>
<text x="282.02" y="846.00" text-anchor="middle" font-size="10.3" fill="#111">1.5</text>
<line x1="303.56" x2="303.56" y1="830.3" y2="834.5" stroke="#000" stroke-width="1.2"/>
<text x="303.56" y="846.00" text-anchor="middle" font-size="10.3" fill="#111">2.0</text>
<line x1="325.10" x2="325.10" y1="830.3" y2="834.5" stroke="#000" stroke-width="1.2"/>
<text x="325.10" y="846.00" text-anchor="middle" font-size="10.3" fill="#111">2.5</text>
<text x="271.5" y="861.8" text-anchor="middle" font-size="10.3" fill="#111">-log10 (p-value)</text>
</svg>
</body></html>
